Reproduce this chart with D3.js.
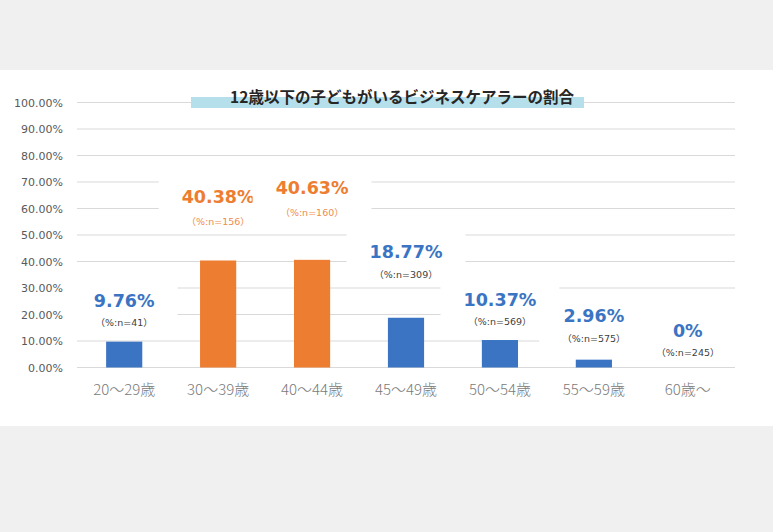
<!DOCTYPE html>
<html lang="ja">
<head>
<meta charset="UTF-8">
<title>12歳以下の子どもがいるビジネスケアラーの割合</title>
<style>
  body { margin: 0; background: #f0f0f0; }
  svg { display: block; }
</style>
</head>
<body>
<svg></svg>
<script src="https://d3js.org/d3.v7.min.js"></script>
<script>
// data
var categories = ["20～29歳", "30～39歳", "40～44歳", "45～49歳", "50～54歳", "55～59歳", "60歳～"];
var values = [9.76, 40.38, 40.63, 18.77, 10.37, 2.96, 0];
var valueLabels = ["9.76%", "40.38%", "40.63%", "18.77%", "10.37%", "2.96%", "0%"];
var sampleSizes = [41, 156, 160, 309, 569, 575, 245];
var highlighted = [false, true, true, false, false, false, false];
var yTicks = [0, 10, 20, 30, 40, 50, 60, 70, 80, 90, 100];
var title = "12歳以下の子どもがいるビジネスケアラーの割合";

// hand-placed label lift above bar top (px), as in the source picture
var labelLift = [41, 64, 72, 66, 40, 44, 37];
var nGap = [22, 25, 25, 23, 22, 23, 22];

var svgWidth = 773, svgHeight = 532;
var margin = { top: 102.5, right: 38, bottom: 164.5, left: 77 };
var width = svgWidth - margin.left - margin.right;
var height = svgHeight - margin.top - margin.bottom;

var blue = "#3a74c2", orange = "#ed7d31";
var numFont = "'DejaVu Sans', Verdana, sans-serif";
var jpFont = "'Noto Sans CJK JP', 'Noto Sans', sans-serif";

var svg = d3.select("svg").attr("width", svgWidth).attr("height", svgHeight);

// white panel
svg.append("rect").attr("x", 0).attr("y", 70).attr("width", svgWidth).attr("height", 356).attr("fill", "#fff");

var g = svg.append("g").attr("transform", "translate(" + margin.left + "," + margin.top + ")");

var x = d3.scaleBand().domain(categories).range([0, width]).paddingInner(0.615).paddingOuter(0.31);
var y = d3.scaleLinear().domain([0, 100]).range([height, 0]);

// gridlines
g.append("g").selectAll("line").data(yTicks).join("line")
  .attr("x1", 0).attr("x2", width)
  .attr("y1", function(d) { return y(d); }).attr("y2", function(d) { return y(d); })
  .attr("stroke", "#d9d9d9").attr("stroke-width", 1);

// y axis labels
var yAxis = g.append("g").attr("transform", "translate(-11,0)")
  .call(d3.axisLeft(y).tickValues(yTicks).tickSize(0).tickFormat(function(d) { return d.toFixed(2) + "%"; }));
yAxis.select(".domain").remove();
yAxis.selectAll("text").attr("font-family", numFont).attr("font-size", 11).attr("fill", "#595959");

// x axis labels
var xAxis = g.append("g").attr("transform", "translate(0," + (height + 14) + ")")
  .call(d3.axisBottom(x).tickSize(0));
xAxis.select(".domain").remove();
xAxis.selectAll("text").attr("font-family", jpFont).attr("font-size", 15).attr("font-weight", 300).attr("fill", "#7a7a7a");

// bars
g.append("g").selectAll("rect").data(values).join("rect")
  .attr("x", function(d, i) { return x(categories[i]); })
  .attr("width", x.bandwidth())
  .attr("y", function(d) { return y(d); })
  .attr("height", function(d) { return height - y(d); })
  .attr("fill", function(d, i) { return highlighted[i] ? orange : blue; });

// data labels with white backing boxes
var lab = g.append("g").selectAll("g").data(values).join("g")
  .attr("transform", function(d, i) {
    return "translate(" + (x(categories[i]) + x.bandwidth() / 2) + "," + (y(d) - labelLift[i]) + ")";
  });

lab.append("rect").attr("class", "bg")
  .attr("fill", "#fff");

lab.append("text")
  .attr("text-anchor", "middle").attr("dy", "0.36em")
  .attr("font-family", numFont).attr("font-weight", "bold").attr("font-size", 17.5)
  .attr("fill", function(d, i) { return highlighted[i] ? orange : blue; })
  .text(function(d, i) { return valueLabels[i]; });

lab.append("text")
  .attr("text-anchor", "middle").attr("y", function(d, i) { return nGap[i]; }).attr("dy", "0.36em")
  .attr("font-family", numFont + ", 'Noto Sans CJK JP'").attr("font-size", 9.5)
  .attr("fill", function(d, i) { return highlighted[i] ? "#f08c4c" : "#404040"; })
  .text(function(d, i) { return "（%:n=" + sampleSizes[i] + "）"; });

lab.each(function(d, i) {
  var w = 0;
  d3.select(this).selectAll("text").each(function() { w = Math.max(w, this.getComputedTextLength()); });
  w = w + 46;
  d3.select(this).select("rect.bg")
    .attr("x", -w / 2).attr("width", w)
    .attr("y", -18).attr("height", nGap[i] + 27);
});

// title with highlight band
svg.append("rect").attr("x", 191).attr("y", 97).attr("width", 393).attr("height", 11).attr("fill", "#b5e0eb");
svg.append("text").attr("x", 402).attr("y", 103)
  .attr("text-anchor", "middle")
  .attr("font-family", jpFont).attr("font-weight", "bold").attr("font-size", 15.5)
  .attr("fill", "#262626")
  .text(title);
</script>
</body>
</html>
